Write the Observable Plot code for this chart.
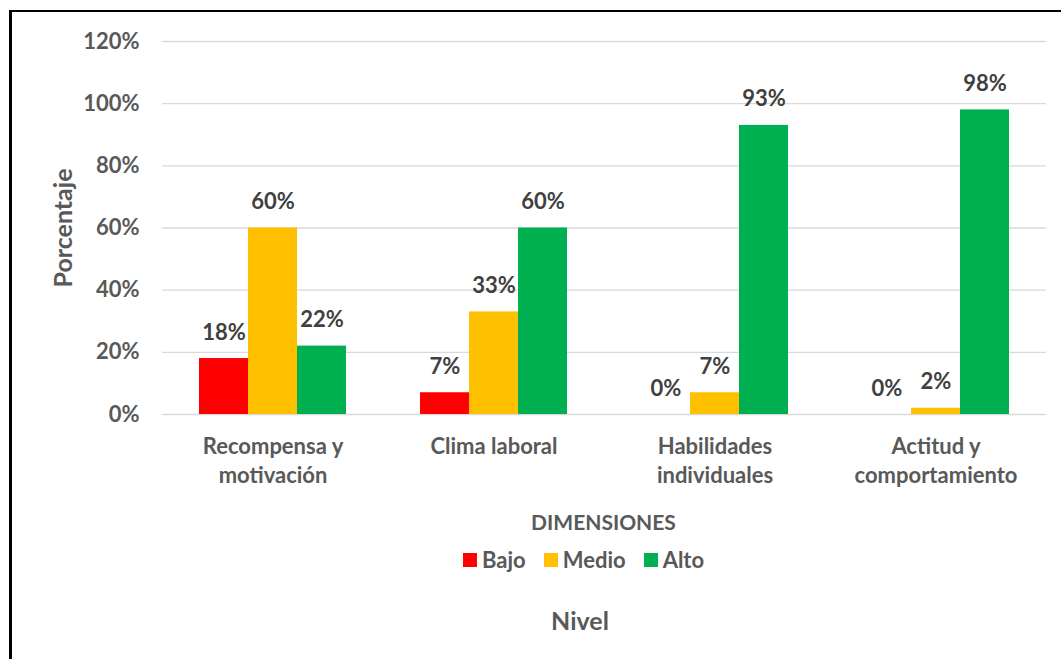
<!DOCTYPE html>
<html>
<head>
<meta charset="utf-8">
<script src="https://cdn.jsdelivr.net/npm/d3@7"></script>
<script src="https://cdn.jsdelivr.net/npm/@observablehq/plot@0.6"></script>
<style>
  html, body { margin: 0; padding: 0; background: #fff; }
  #wrap { position: relative; width: 1061px; height: 659px; overflow: hidden; font-family: Lato, "Open Sans", sans-serif; font-weight: bold; color: #595959; }
  #frame { position: absolute; left: 9px; top: 10px; width: 1200px; height: 800px; border-left: 3px solid #000; border-top: 2px solid #000; pointer-events: none; }
  #chart { position: absolute; left: 0; top: 0; }
  .title { position: absolute; text-align: center; white-space: nowrap; }
  #legend { position: absolute; display: flex; align-items: center; font-size: 22px; line-height: 26px; }
  #legend .item { display: flex; align-items: center; margin-right: 18px; }
  #legend .sw { width: 14px; height: 14px; margin-right: 5px; }
</style>
</head>
<body>
<div id="wrap">
  <div id="chart"></div>
  <div class="title" id="dim" style="left:160px; width:887px; top:509px; font-size:21px; line-height:26px;">DIMENSIONES</div>
  <div id="legend" style="left:463px; top:547px;"></div>
  <div class="title" id="nivel" style="left:480px; width:200px; top:605px; font-size:25px; line-height:30px;">Nivel</div>
  <div id="frame"></div>
</div>
<script>
const categories = ["Recompensa y motivación", "Clima laboral", "Habilidades individuales", "Actitud y comportamiento"];
const categoryLabels = ["Recompensa y\nmotivación", "Clima laboral", "Habilidades\nindividuales", "Actitud y\ncomportamiento"];
const levels = ["Bajo", "Medio", "Alto"];
const levelColors = ["#FF0000", "#FFC000", "#00B050"];
const bajo = [18, 7, 0, 0];
const medio = [60, 33, 7, 2];
const alto = [22, 60, 93, 98];
const yTicks = [0, 20, 40, 60, 80, 100, 120];

const series = {Bajo: bajo, Medio: medio, Alto: alto};
const data = [];
categories.forEach((c, i) => {
  levels.forEach(l => data.push({cat: c, level: l, value: series[l][i]}));
});
const labelOf = new Map(categories.map((c, i) => [c, categoryLabels[i]]));

const chart = Plot.plot({
  width: 1061,
  height: 500,
  marginTop: 41,
  marginBottom: 86,
  marginLeft: 160,
  marginRight: 14,
  style: {fontFamily: "Lato, 'Open Sans', sans-serif", fontWeight: "bold", fontSize: "22px", color: "#595959", background: "transparent", overflow: "visible"},
  fx: {domain: categories, padding: 0, label: null},
  x: {domain: levels, paddingInner: 0, paddingOuter: 0.74, axis: null},
  y: {domain: [0, 120], label: null},
  color: {domain: levels, range: levelColors},
  marks: [
    Plot.gridY(yTicks, {stroke: "#d9d9d9", strokeOpacity: 1, strokeWidth: 1.4}),
    Plot.barY(data, {fx: "cat", x: "level", y: "value", fill: "level"}),
    Plot.text(data, {fx: "cat", x: "level", y: "value", text: d => d.value + "%", dy: -26, lineAnchor: "middle", fill: "#404040", fontSize: 22, fontWeight: "bold"}),
    Plot.axisY(yTicks, {tickSize: 0, tickPadding: 23, tickFormat: d => d + "%", label: "Porcentaje", labelAnchor: "center", labelOffset: 108, labelArrow: "none", fontSize: 22}),
    Plot.axisFx({anchor: "bottom", tickSize: 0, tickPadding: 19, tickFormat: d => labelOf.get(d), label: null, lineHeight: 1.32, fontSize: 22})
  ]
});
document.getElementById("chart").appendChild(chart);

// style y-axis label
chart.querySelectorAll("g[aria-label='y-axis label'] text").forEach(t => { t.setAttribute("font-size", "25"); });

const legend = document.getElementById("legend");
levels.forEach((l, i) => {
  const item = document.createElement("div");
  item.className = "item";
  const sw = document.createElement("span");
  sw.className = "sw";
  sw.style.background = levelColors[i];
  const tx = document.createElement("span");
  tx.textContent = l;
  item.appendChild(sw);
  item.appendChild(tx);
  legend.appendChild(item);
});
</script>
</body>
</html>
